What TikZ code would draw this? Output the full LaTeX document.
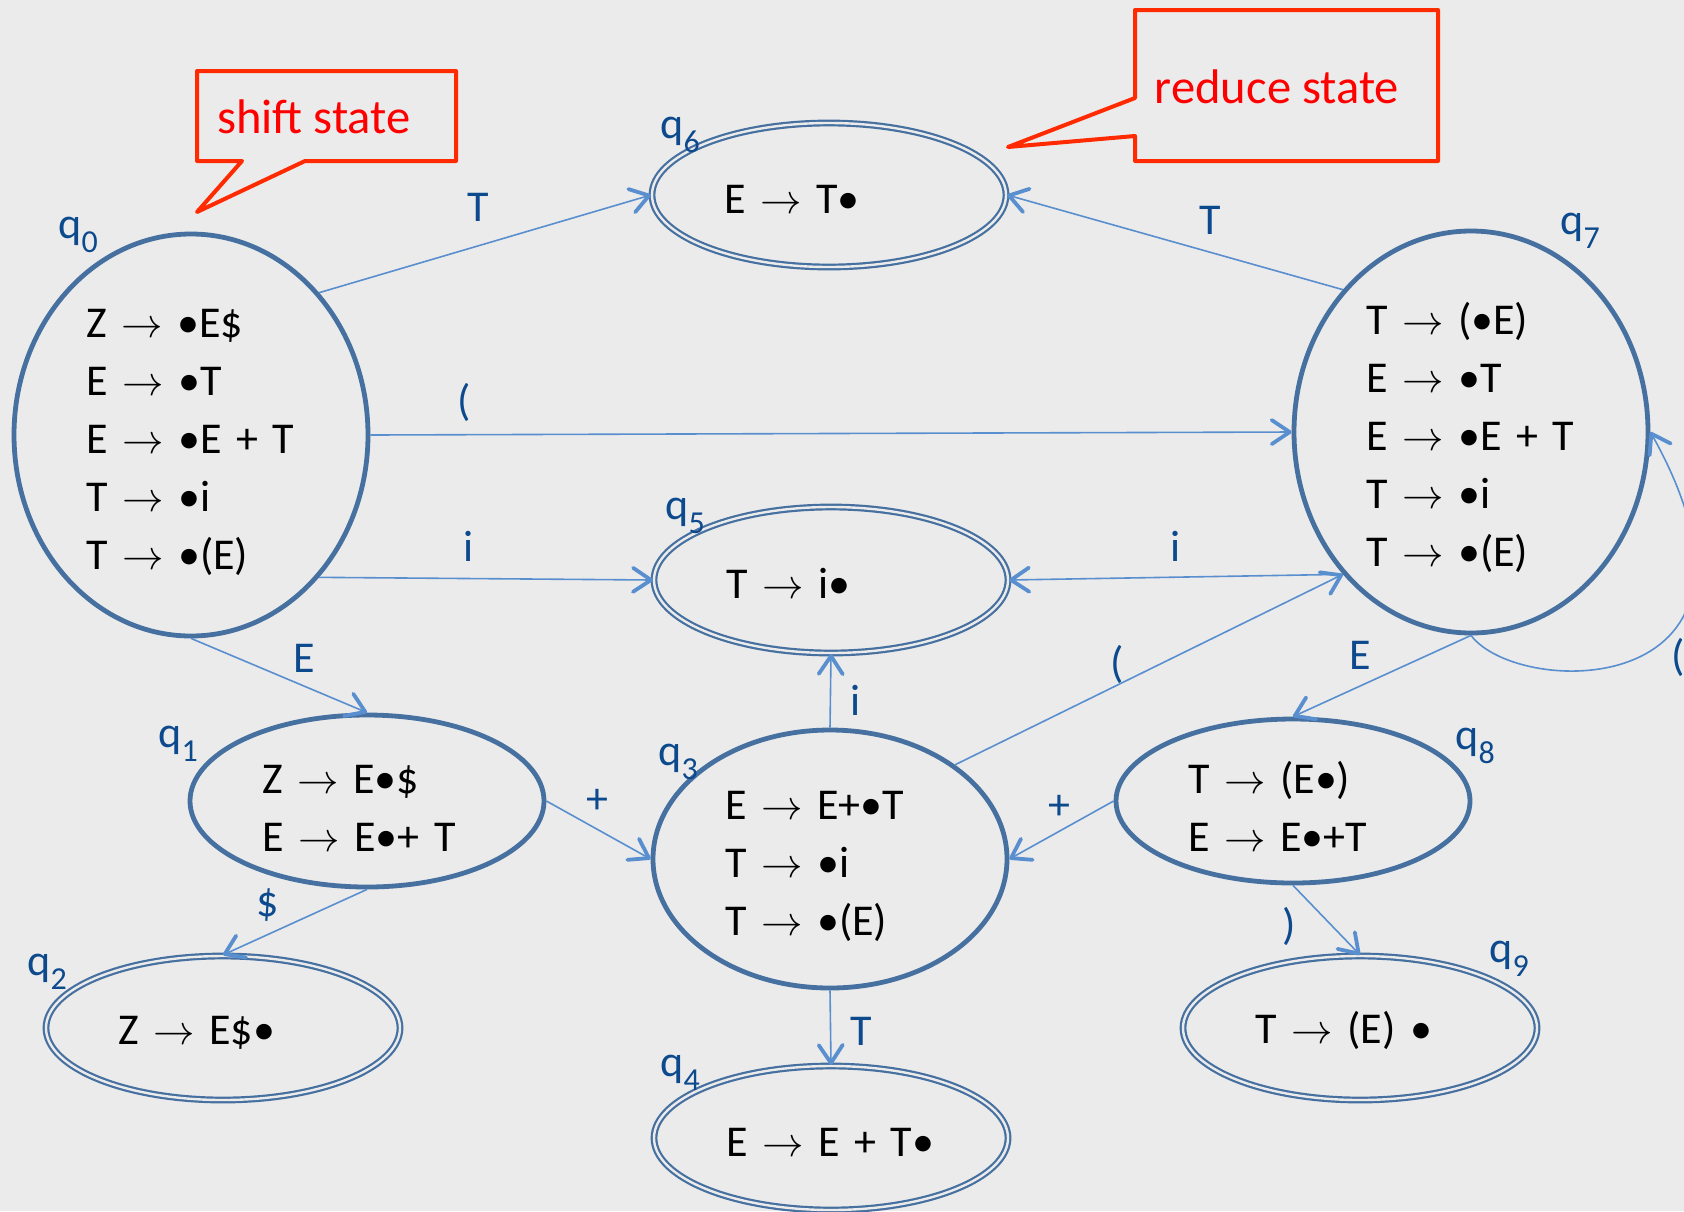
\documentclass[tikz,border=0pt]{standalone}
\usepackage{fontspec}
\setmainfont{Carlito}
\usetikzlibrary{shapes.geometric, arrows.meta}
\definecolor{bggray}{HTML}{EBEBEB}
\definecolor{stateblue}{HTML}{4670A0}
\definecolor{edgeblue}{HTML}{5A8FCF}
\definecolor{labelblue}{HTML}{0D4A8D}
\definecolor{calloutred}{HTML}{FF2A00}
% one item of a state: left side, arrow, right side
\newcommand{\rl}[2]{#1~$\rightarrow$~#2}
\newcommand{\qname}[1]{q\raisebox{-7pt}{\fontsize{16}{16}\selectfont #1}}

\begin{document}
\begin{tikzpicture}[x=0.5pt, y=-0.5pt,
    itembox/.style={ellipse, draw=stateblue, inner sep=0pt,
      minimum width=177pt, text width=105pt, align=left,
      font=\fontsize{22}{29}\selectfont},
    state/.style={itembox, line width=2.4pt,
      execute at begin node={\rule{0pt}{21.5pt}}},
    accept/.style={itembox, double=bggray, line width=1.1pt, double distance=1.2pt,
      execute at begin node={\rule{0pt}{18.5pt}}},
    trans/.style={draw=edgeblue, line width=0.8pt,
      -{Straight Barb[length=9pt, width=12pt, line width=1.9pt, round]}},
    lbl/.style={text=labelblue, font=\fontsize{22}{22}\selectfont, inner sep=0pt},
    qlbl/.style={lbl, anchor=base west},
    callout/.style={draw=calloutred, line width=2pt, line join=round},
    callouttext/.style={text=red, font=\fontsize{24.3}{24.3}\selectfont, anchor=base}]

  \fill[bggray] (0,0) rectangle (1684,1211);
  \useasboundingbox (0,0) rectangle (1684,1211);

  % states
  \node[state, minimum height=201pt] (q0) at (191,435)
    {\rl{Z}{\textbullet E\$}\\\rl{E}{\textbullet T}\\\rl{E}{\textbullet E~+~T}\\\rl{T}{\textbullet i}\\\rl{T}{\textbullet(E)}};
  \node[accept, minimum height=72pt] (q6) at (829,195) {\rl{E}{T\textbullet}};
  \node[state, minimum height=201pt] (q7) at (1471,432)
    {\rl{T}{(\textbullet E)}\\\rl{E}{\textbullet T}\\\rl{E}{\textbullet E~+~T}\\\rl{T}{\textbullet i}\\\rl{T}{\textbullet(E)}};
  \node[accept, minimum height=73pt] (q5) at (831,580) {\rl{T}{i\textbullet}};
  \node[state, minimum height=86pt] (q1) at (367,801)
    {\rl{Z}{E\textbullet\$}\\\rl{E}{E\textbullet+~T}};
  \node[state, minimum height=129pt] (q3) at (830,859)
    {\rl{E}{E+\textbullet T}\\\rl{T}{\textbullet i}\\\rl{T}{\textbullet(E)}};
  \node[state, minimum height=82pt] (q8) at (1293,801)
    {\rl{T}{(E\textbullet)}\\\rl{E}{E\textbullet+T}};
  \node[accept, minimum height=72pt] (q2) at (223,1028) {\rl{Z}{E\$\textbullet}};
  \node[accept, minimum height=72pt] (q4) at (831,1138) {\rl{E}{E~+~T\textbullet}};
  \node[accept, minimum height=72pt] (q9) at (1360,1028) {\rl{T}{(E)~\textbullet}};

  % state names
  \node[qlbl] (n0) at (58,238) {\qname{0}};
  \node[qlbl] (n6) at (660,138) {\qname{6}};
  \node[qlbl] (n7) at (1560,234) {\qname{7}};
  \node[qlbl] (n5) at (665,519) {\qname{5}};
  \node[qlbl] (n1) at (158,747) {\qname{1}};
  \node[qlbl] (n3) at (658,765) {\qname{3}};
  \node[qlbl] (n8) at (1455,749) {\qname{8}};
  \node[qlbl] (n2) at (27,975) {\qname{2}};
  \node[qlbl] (n4) at (660,1076) {\qname{4}};
  \node[qlbl] (n9) at (1489,962) {\qname{9}};

  % transitions
  \draw[trans] (q0.48) -- (q6.west);
  \draw[trans] (q7.132) -- (q6.east);
  \draw[trans] (q0.east) -- (q7.west);
  \draw[trans] (q0.-48) -- (q5.west);
  \draw[trans] (q7.228) -- (q5.east);
  \draw[trans] (q0.south) -- (q1.north);
  \draw[trans] (q1.east) -- (q3.west);
  \draw[trans] (q1.south) -- (q2.north);
  \draw[trans] (q3.north) -- (q5.south);
  \draw[trans] (q3.37) -- (q7.228);
  \draw[trans] (q7.south) -- (q8.north);
  \draw[trans] (q8.west) -- (q3.east);
  \draw[trans] (q8.south) -- (q9.north);
  \draw[trans] (q3.south) -- (q4.north);
  \draw[trans] (q7.south) .. controls (1520,700) and (1800,700) .. (q7.east);

  % transition labels
  \node[lbl] (t06) at (478,207) {T};
  \node[lbl] (t76) at (1210,220) {T};
  \node[lbl] (t07) at (464,402) {(};
  \node[lbl] (t05) at (469,546) {i};
  \node[lbl] (t75) at (1176,546) {i};
  \node[lbl] (t01) at (304,658) {E};
  \node[lbl] (t13) at (597,801) {+};
  \node[lbl] (t12) at (268,905) {\$};
  \node[lbl] (t35) at (856,700) {i};
  \node[lbl] (t37) at (1117,664) {(};
  \node[lbl] (t78) at (1360,655) {E};
  \node[lbl] (t83) at (1059,807) {+};
  \node[lbl] (t89) at (1289,926) {)};
  \node[lbl] (t34) at (861,1031) {T};
  \node[lbl] (t77) at (1678,657) {(};

  % callouts
  \draw[callout] (197,71) -- (456,71) -- (456,161) -- (305,161) -- (197,212)
    -- (242,161) -- (197,161) -- cycle;
  \node[callouttext] (shiftnote) at (314,133) {shift state};
  \draw[callout] (1135,10) -- (1438,10) -- (1438,161) -- (1135,161) -- (1135,136)
    -- (1008,147) -- (1135,98) -- cycle;
  \node[callouttext] (reducenote) at (1277,103) {reduce state};
\end{tikzpicture}
\end{document}
